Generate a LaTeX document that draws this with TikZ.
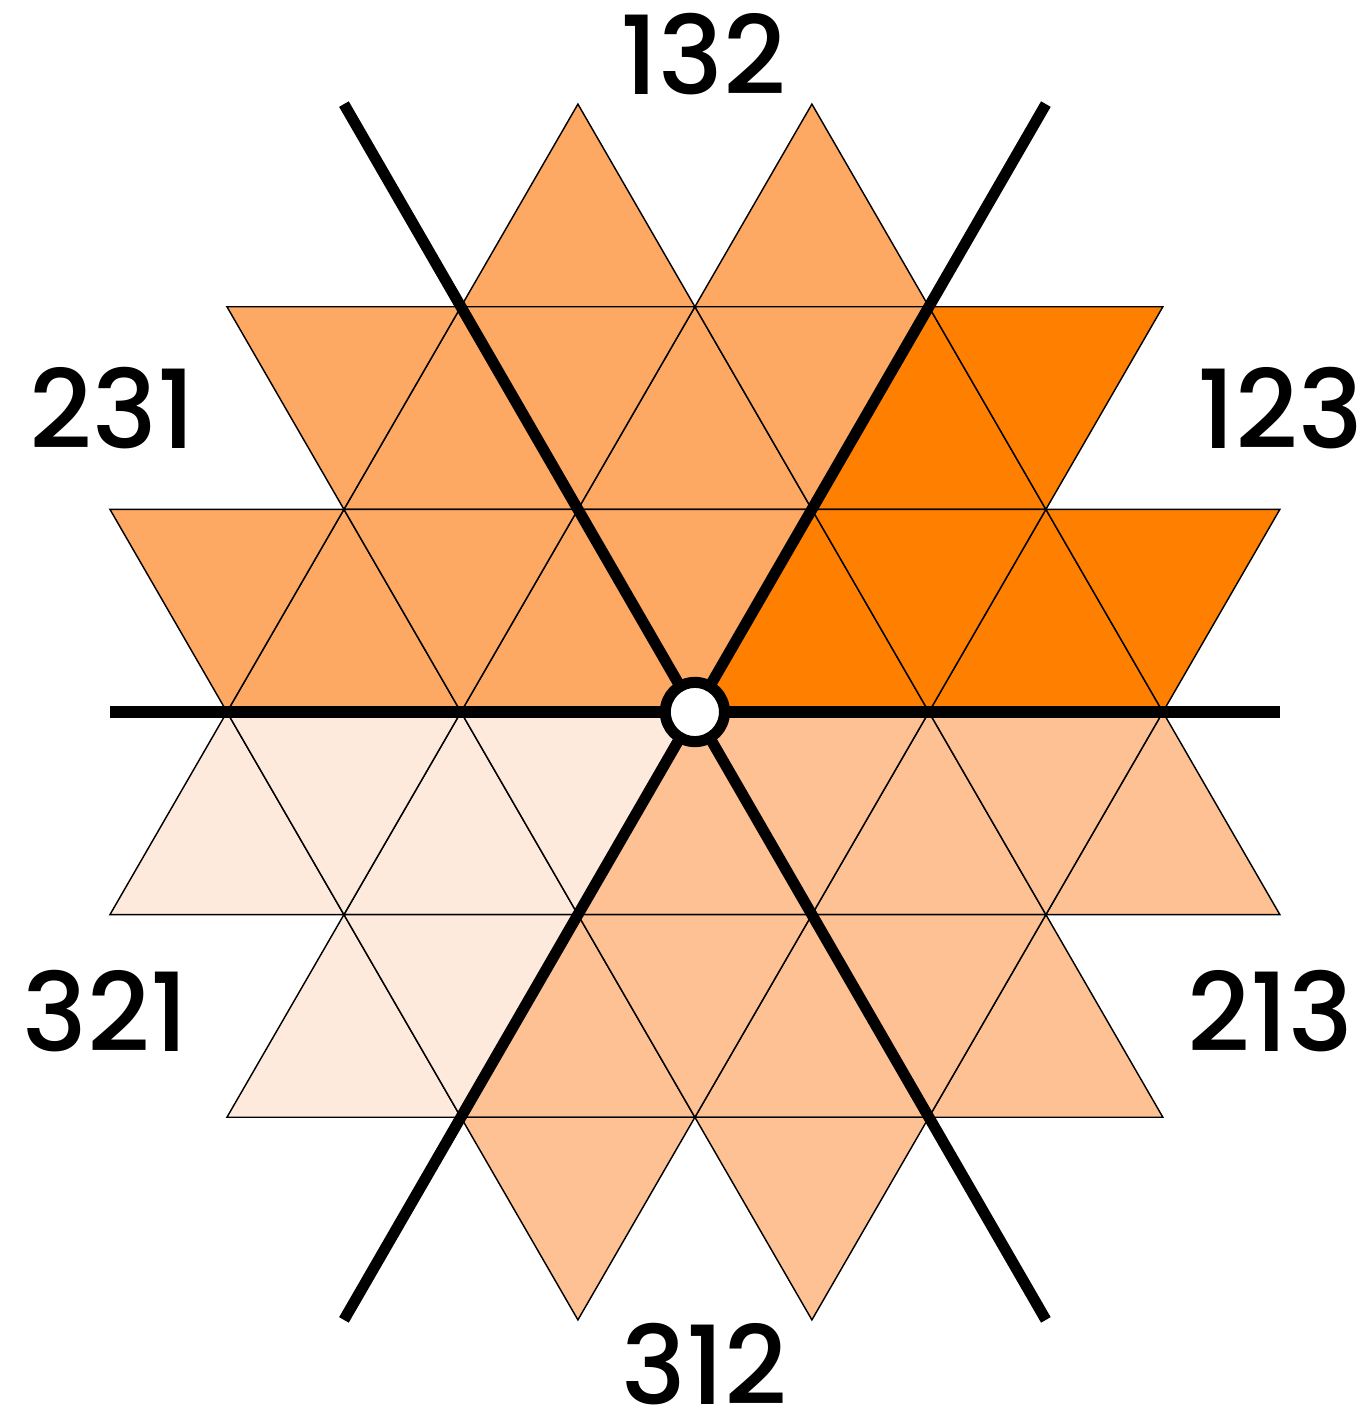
\documentclass[tikz,border=0pt]{standalone}
\usepackage{fontspec}
\setmainfont{Poppins}
\newfontfamily\labelfont{Poppins Medium}
\usepackage{tikz}
\usetikzlibrary{calc}
\definecolor{Dark}{HTML}{FF7F00}
\definecolor{Mid}{HTML}{FDA863}
\definecolor{Light}{HTML}{FEC193}
\definecolor{Pale}{HTML}{FEEADC}

\begin{document}
\begin{tikzpicture}[
  x=2cm,y=2cm,
  every node/.style={font=\labelfont\fontsize{26.5}{30}\selectfont,inner sep=0pt},
  tri/.style={draw=black,line width=0.35pt},
  axis/.style={draw=black,line width=2.7pt},
  hub/.style={circle,draw=black,fill=white,line width=2.7pt,minimum size=14.4pt,inner sep=0pt}
]
\useasboundingbox (-2.970,-2.996) rectangle (2.880,3.043);
% upward triangles: base-left x / base row / colour
\foreach \x/\r/\c in {-2/0/Mid,-1/0/Mid,0/0/Dark,1/0/Dark,
                      -1.5/1/Mid,-0.5/1/Mid,0.5/1/Dark,
                      -1/2/Mid,0/2/Mid,
                      -2.5/-1/Pale,-1.5/-1/Pale,-0.5/-1/Light,0.5/-1/Light,1.5/-1/Light,
                      -2/-2/Pale,-1/-2/Light,0/-2/Light,1/-2/Light}
  \filldraw[tri,fill=\c] (\x,\r*0.8660254) -- ++(1,0) -- ++(120:1) -- cycle;
% downward triangles: top-left x / top row / colour
\foreach \x/\r/\c in {-2.5/1/Mid,-1.5/1/Mid,-0.5/1/Mid,0.5/1/Dark,1.5/1/Dark,
                      -2/2/Mid,-1/2/Mid,0/2/Mid,1/2/Dark,
                      -2/0/Pale,-1/0/Pale,0/0/Light,1/0/Light,
                      -1.5/-1/Pale,-0.5/-1/Light,0.5/-1/Light,
                      -1/-2/Light,0/-2/Light}
  \filldraw[tri,fill=\c] (\x,\r*0.8660254) -- ++(1,0) -- ++(240:1) -- cycle;

\coordinate (w) at (-2.5,0);
\coordinate (e) at (2.5,0);
\coordinate (ne) at (60:3);
\coordinate (sw) at (240:3);
\coordinate (nw) at (120:3);
\coordinate (se) at (300:3);
\draw[axis] (w) -- (e);
\draw[axis] (sw) -- (ne);
\draw[axis] (nw) -- (se);
\node[hub] (o) at (0,0) {};

\node (l132) at (0.035,2.81) {132};
\node (l123) at (2.50,1.30) {123};
\node (l231) at (-2.49,1.30) {231};
\node (l321) at (-2.52,-1.277) {321};
\node (l213) at (2.46,-1.277) {213};
\node (l312) at (0.040,-2.785) {312};
\end{tikzpicture}
\end{document}
